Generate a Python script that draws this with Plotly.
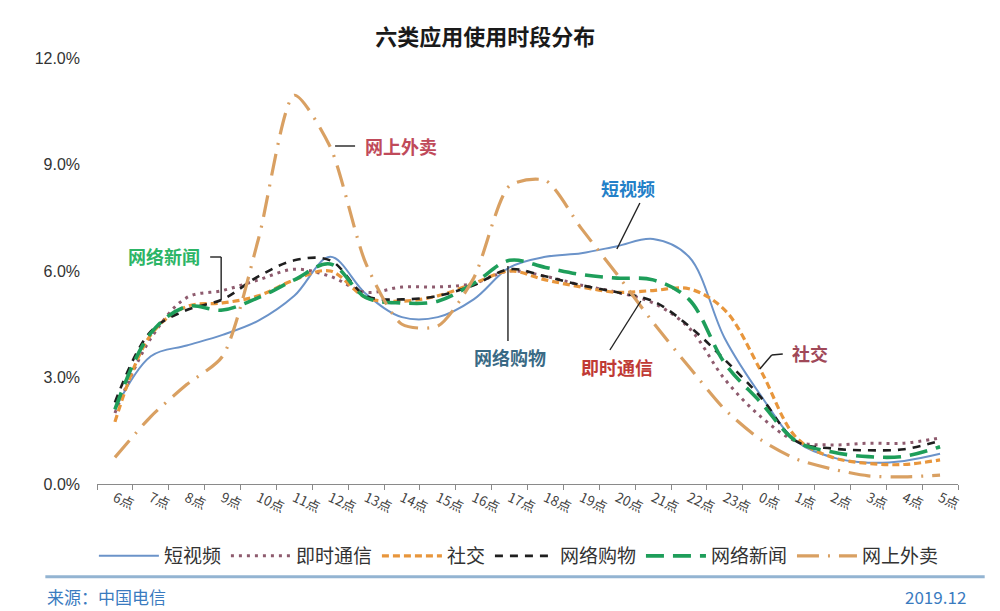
import plotly.graph_objects as go

hours = ["6点", "7点", "8点", "9点", "10点", "11点", "12点", "13点", "14点", "15点",
         "16点", "17点", "18点", "19点", "20点", "21点", "22点", "23点", "0点", "1点",
         "2点", "3点", "4点", "5点"]

# share of usage per hour, in %
short_video = [2.1, 3.6, 3.9, 4.2, 4.6, 5.3, 6.4, 5.35, 4.7, 4.7, 5.2, 6.1,
               6.4, 6.5, 6.7, 6.9, 6.4, 4.1, 2.5, 1.2, 0.75, 0.6, 0.65, 0.85]
instant_msg = [2.0, 4.1, 5.25, 5.45, 5.75, 6.05, 5.85, 5.4, 5.55, 5.55, 5.65, 6.0,
               5.85, 5.6, 5.4, 5.1, 4.4, 2.95, 1.9, 1.2, 1.1, 1.15, 1.15, 1.3]
social = [1.75, 4.2, 5.0, 5.1, 5.3, 5.75, 6.0, 5.25, 5.15, 5.3, 5.65, 6.0,
          5.75, 5.55, 5.4, 5.45, 5.5, 4.9, 3.2, 1.3, 0.75, 0.58, 0.55, 0.68]
shopping = [2.3, 4.3, 4.9, 5.2, 5.85, 6.3, 6.3, 5.3, 5.2, 5.3, 5.6, 6.05,
            5.85, 5.6, 5.4, 5.15, 4.45, 3.5, 2.45, 1.2, 1.0, 0.95, 0.98, 1.22]
news = [2.1, 4.25, 5.0, 4.9, 5.25, 5.75, 6.2, 5.25, 5.1, 5.15, 5.65, 6.3,
        6.1, 5.9, 5.8, 5.75, 5.2, 3.4, 2.3, 1.2, 0.9, 0.77, 0.78, 1.05]
takeout = [0.75, 1.9, 2.8, 3.6, 6.9, 10.95, 9.5, 6.2, 4.5, 4.45, 5.8, 8.4,
           8.55, 7.2, 5.9, 4.55, 3.3, 2.1, 1.25, 0.7, 0.42, 0.23, 0.2, 0.25]

FONT = "Noto Sans CJK SC"

series = [
    ("短视频", short_video, "#6b93c9", 2, "solid", 1.0),
    ("即时通信", instant_msg, "#8e5b6e", 3, "3px,5px", 1.0),
    ("社交", social, "#e8963c", 3.2, "7px,4px", 1.0),
    ("网络购物", shopping, "#1f1f1f", 2.6, "8px,7px", 1.0),
    ("网络新闻", news, "#1e9e5a", 3.6, "18px,9px", 1.0),
    ("网上外卖", takeout, "#d9a062", 3.2, "22px,9px,2px,9px", 0.7),
]

fig = go.Figure()
for name, vals, color, width, dash, smooth in series:
    fig.add_trace(go.Scatter(
        x=hours, y=vals, name=name, mode="lines",
        line=dict(color=color, width=width, dash=dash, shape="spline", smoothing=smooth),
    ))

# the page body adds an 8px margin, so the figure is 8px smaller on each side
fig.update_layout(
    width=992, height=603,
    margin=dict(l=89, r=42, t=50, b=127),
    plot_bgcolor="white", paper_bgcolor="white",
    font=dict(family=FONT, color="#333333"),
    title=dict(text="<b>六类应用使用时段分布</b>", x=0.451, xref="paper", xanchor="center",
               y=0.952, yanchor="middle", font=dict(size=22, color="#1a1a1a")),
    legend=dict(orientation="h", x=0.49, xanchor="center", y=-0.169, yanchor="middle",
                font=dict(size=19, color="#333333"), itemwidth=60),
    showlegend=True,
)

fig.update_xaxes(
    type="category", range=[-0.5, 23.5], showgrid=False,
    showline=True, linecolor="#8a8a8a", linewidth=1.2,
    ticks="outside", tickson="boundaries", ticklen=5, tickcolor="#8a8a8a",
    tickangle=25, tickfont=dict(size=13.5, color="#444444"),
)
fig.update_yaxes(
    range=[0, 12], dtick=3, tickformat=".1f", ticksuffix="%",
    showgrid=False, zeroline=False, showline=False, ticks="",
    ticklabelstandoff=16,
    tickfont=dict(size=16, color="#333333", family="Liberation Sans"),
)


def xi(px):
    # page x pixel -> category index
    return (px - 114.7) / 35.9


def yv(py):
    # page y pixel -> value
    return (484 - py) / 35.5


# callout labels
labels = [
    ("网上外卖", 401, 146, "#c04a5a"),
    ("网络新闻", 164, 256, "#2cb566"),
    ("短视频", 628, 188, "#2380c8"),
    ("网络购物", 510, 357, "#3a6a85"),
    ("即时通信", 617, 367, "#c03a35"),
    ("社交", 810, 353, "#a04858"),
]
for text, px, py, color in labels:
    fig.add_annotation(x=xi(px), y=yv(py), xref="x", yref="y", text="<b>%s</b>" % text,
                       showarrow=False, font=dict(size=18, color=color, family=FONT))

# leader lines
leaders = [
    [(335, 146), (355, 146)],
    [(210, 257), (221, 257), (221, 300)],
    [(640, 203), (617, 249)],
    [(508, 266), (508, 341)],
    [(610, 350), (641, 301)],
    [(760, 369), (772, 355), (783, 354)],
]
for pts in leaders:
    for (xa, ya), (xb, yb) in zip(pts[:-1], pts[1:]):
        fig.add_shape(type="line", xref="x", yref="y",
                      x0=xi(xa), y0=yv(ya), x1=xi(xb), y1=yv(yb),
                      line=dict(color="#222222", width=1.4))

# footer
fig.add_shape(type="line", xref="paper", yref="paper", x0=-0.06, x1=1.031, y0=-0.218, y1=-0.218,
              line=dict(color="#93b4d2", width=3))
fig.add_annotation(x=-0.06, y=-0.265, xref="paper", yref="paper", xanchor="left", yanchor="middle",
                   text="来源：中国电信", showarrow=False, font=dict(size=17, color="#3a7bbf"))
fig.add_annotation(x=1.0116, y=-0.265, xref="paper", yref="paper", xanchor="right", yanchor="middle",
                   text="2019.12", showarrow=False, font=dict(size=17, color="#3a7bbf"))

fig.write_html("out.html")
